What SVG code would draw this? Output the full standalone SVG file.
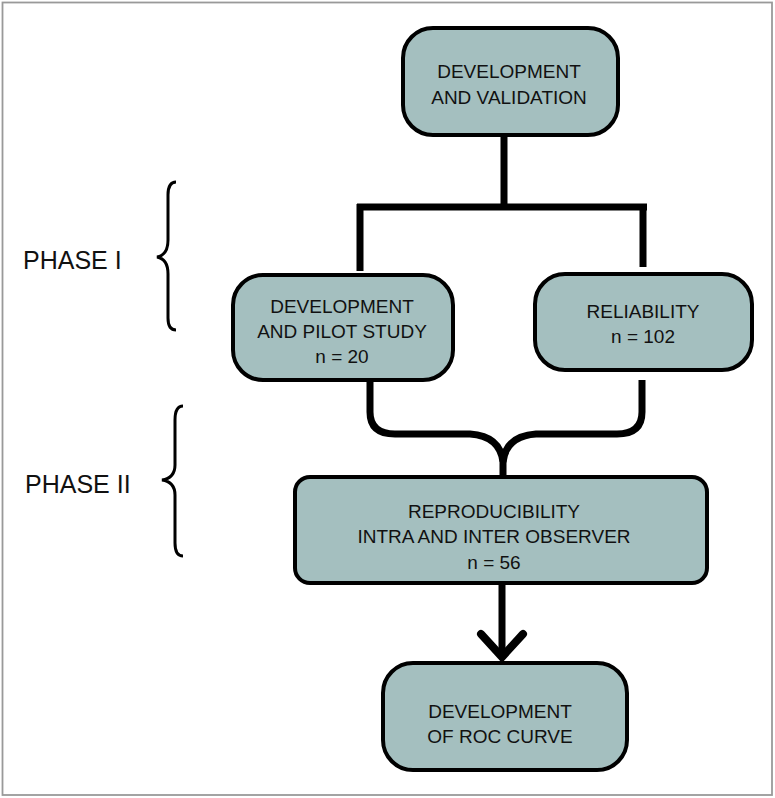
<svg xmlns="http://www.w3.org/2000/svg" width="775" height="798" viewBox="0 0 775 798">
<style>
.node{fill:#a4bfbf;stroke:#000;stroke-width:4}
.t{font-family:"Liberation Sans",Arial,sans-serif;font-size:19px;fill:#111;text-anchor:middle}
.ph{font-family:"Liberation Sans",Arial,sans-serif;font-size:25px;fill:#111}
.c{fill:none;stroke:#000;stroke-width:7}
.br{fill:none;stroke:#000;stroke-width:3}
</style>
<rect x="2.5" y="2.5" width="769.5" height="792.5" fill="#fff" stroke="#999" stroke-width="1.8"/>
<g id="connectors">
<path class="c" d="M504,135 V207 M357,207 H647 M360,204 V271 M643,204 V267"/>
<path class="c" d="M370,380 V412 Q370,434 395,434 H470 Q500,436 503,462 V478"/>
<path class="c" d="M642,380 V412 Q642,434 617,434 H536 Q506,436 503,462"/>
<path class="c" stroke-width="8" d="M502,583 V655"/>
<polyline points="481,634 502,657 523,634" fill="none" stroke="#000" stroke-width="8" stroke-linecap="round" stroke-linejoin="miter"/>
</g>
<g id="brace1"><path class="br" d="M176,182 Q168,182 168,195 L168,240 Q168,255 157,257 Q168,259 168,274 L168,318 Q168,330 176,330"/></g>
<g id="brace2"><path class="br" d="M183,406 Q175,406 175,420 L175,465 Q175,478 162,480 Q175,482 175,495 L175,543 Q175,556 183,556"/></g>
<g id="phase1"><text class="ph" x="23" y="269">PHASE I</text></g>
<g id="phase2"><text class="ph" x="25" y="493">PHASE II</text></g>
<g id="n-top">
<rect class="node" x="403" y="28" width="215" height="107" rx="30"/>
<text class="t" x="509" y="78">DEVELOPMENT</text>
<text class="t" x="509" y="104">AND VALIDATION</text>
</g>
<g id="n-pilot">
<rect class="node" x="233" y="275" width="220" height="105" rx="30"/>
<text class="t" x="342" y="313">DEVELOPMENT</text>
<text class="t" x="342" y="338">AND PILOT STUDY</text>
<text class="t" x="342" y="363">n = 20</text>
</g>
<g id="n-rel">
<rect class="node" x="535" y="274" width="217" height="96" rx="30"/>
<text class="t" x="643" y="318">RELIABILITY</text>
<text class="t" x="643" y="343">n = 102</text>
</g>
<g id="n-repro">
<rect class="node" x="295" y="477" width="412" height="106" rx="15"/>
<text class="t" x="494" y="518">REPRODUCIBILITY</text>
<text class="t" x="494" y="543">INTRA AND INTER OBSERVER</text>
<text class="t" x="494" y="569">n = 56</text>
</g>
<g id="n-roc">
<rect class="node" x="383" y="663" width="244" height="107" rx="30"/>
<text class="t" x="500" y="718">DEVELOPMENT</text>
<text class="t" x="500" y="743">OF ROC CURVE</text>
</g>
</svg>
